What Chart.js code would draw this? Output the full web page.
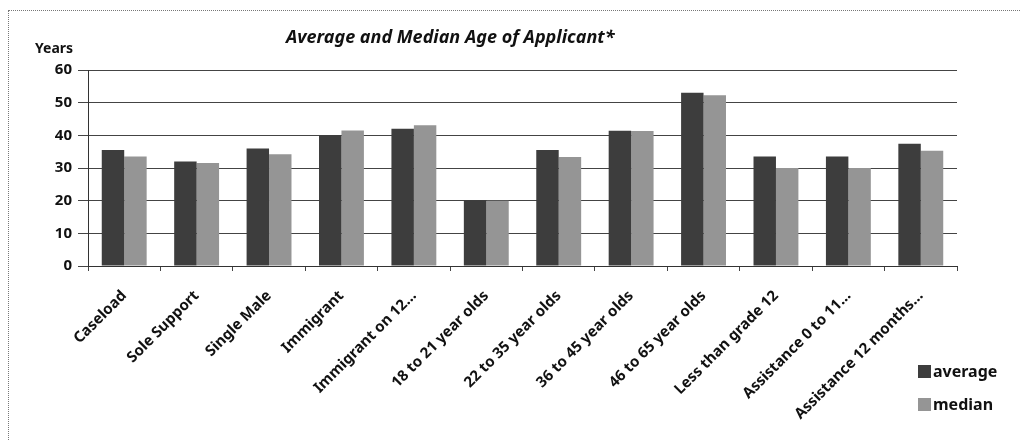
<!DOCTYPE html>
<html>
<head>
<meta charset="utf-8">
<script src="https://cdn.jsdelivr.net/npm/chart.js@4.4.1/dist/chart.umd.min.js"></script>
<style>
  html, body { margin: 0; padding: 0; background: #fff; }
  #wrap { position: relative; width: 1020px; height: 441px; overflow: hidden; font-family: "Noto Sans", "Open Sans", sans-serif; }
  #frame { position: absolute; left: 8px; top: 10px; width: 1100px; height: 600px; border: 1px dotted #777; box-sizing: border-box; }
  #cv { position: absolute; left: 0; top: 0; }
  #title { position: absolute; left: 286px; top: 24px; font-size: 18px; font-weight: bold; font-style: italic; color: #111; white-space: nowrap; }
  #ylab { position: absolute; left: 35px; top: 38px; font-size: 14px; font-weight: bold; color: #111; }
  .leg { position: absolute; left: 918px; font-size: 16px; font-weight: bold; color: #111; display: flex; align-items: center; white-space: nowrap; }
  .leg span.sw { display: inline-block; width: 13px; height: 13px; margin-right: 2px; }
</style>
</head>
<body>
<div id="wrap">
  <div id="frame"></div>
  <canvas id="cv" width="1020" height="441"></canvas>
  <div id="title"></div>
  <div id="ylab"></div>
  <div id="legend"></div>
</div>
<script>
const chartTitle = "Average and Median Age of Applicant*";
const yAxisLabel = "Years";
const categories = [
  "Caseload", "Sole Support", "Single Male", "Immigrant", "Immigrant on 12...",
  "18 to 21 year olds", "22 to 35 year olds", "36 to 45 year olds", "46 to 65 year olds",
  "Less than grade 12", "Assistance 0 to 11...", "Assistance 12 months..."
];
const seriesNames = ["average", "median"];
const averageValues = [35.5, 32, 36, 40, 42, 20.2, 35.5, 41.4, 53, 33.5, 33.5, 37.4];
const medianValues  = [33.5, 31.5, 34.2, 41.5, 43.1, 20, 33.4, 41.3, 52.3, 30, 30, 35.3];
const yTicks = [0, 10, 20, 30, 40, 50, 60];
const seriesColors = ["#3d3d3d", "#959595"];

document.getElementById('title').textContent = chartTitle;
document.getElementById('ylab').textContent = yAxisLabel;
const legendEl = document.getElementById('legend');
const legendTops = [360, 393];
seriesNames.forEach((n, i) => {
  const d = document.createElement('div');
  d.className = 'leg';
  d.style.top = legendTops[i] + 'px';
  d.innerHTML = '<span class="sw" style="background:' + seriesColors[i] + '"></span>';
  d.appendChild(document.createTextNode(n));
  legendEl.appendChild(d);
});

const FONT = "'Noto Sans', 'Open Sans', sans-serif";
new Chart(document.getElementById('cv'), {
  type: 'bar',
  data: {
    labels: categories,
    datasets: [
      { label: seriesNames[0], data: averageValues, backgroundColor: seriesColors[0], borderWidth: 0 },
      { label: seriesNames[1], data: medianValues, backgroundColor: seriesColors[1], borderWidth: 0 }
    ]
  },
  options: {
    responsive: false,
    animation: false,
    devicePixelRatio: 1,
    layout: { padding: { left: 0, right: 63, top: 70, bottom: 0 } },
    datasets: { bar: { categoryPercentage: 0.62, barPercentage: 1.0 } },
    plugins: { legend: { display: false }, title: { display: false }, tooltip: { enabled: false } },
    scales: {
      x: {
        offset: true,
        grid: { display: true, offset: true, drawOnChartArea: false, drawTicks: true, tickLength: 5, color: '#444' },
        border: { display: true, color: '#333', width: 1 },
        ticks: {
          autoSkip: false, maxRotation: 45, minRotation: 45, padding: 16,
          color: '#111', font: { family: FONT, size: 15, weight: 'bold' }
        },
        afterFit: (s) => { s.height = 175; }
      },
      y: {
        min: 0, max: 60,
        afterBuildTicks: (s) => { s.ticks = yTicks.map(v => ({ value: v })); },
        grid: { color: '#444', lineWidth: 1, drawTicks: true, tickLength: 10 },
        border: { display: true, color: '#333', width: 1 },
        ticks: { padding: 6, color: '#111', font: { family: FONT, size: 15, weight: 'bold' } },
        afterFit: (s) => { s.width = 88; }
      }
    }
  }
});
</script>
</body>
</html>
